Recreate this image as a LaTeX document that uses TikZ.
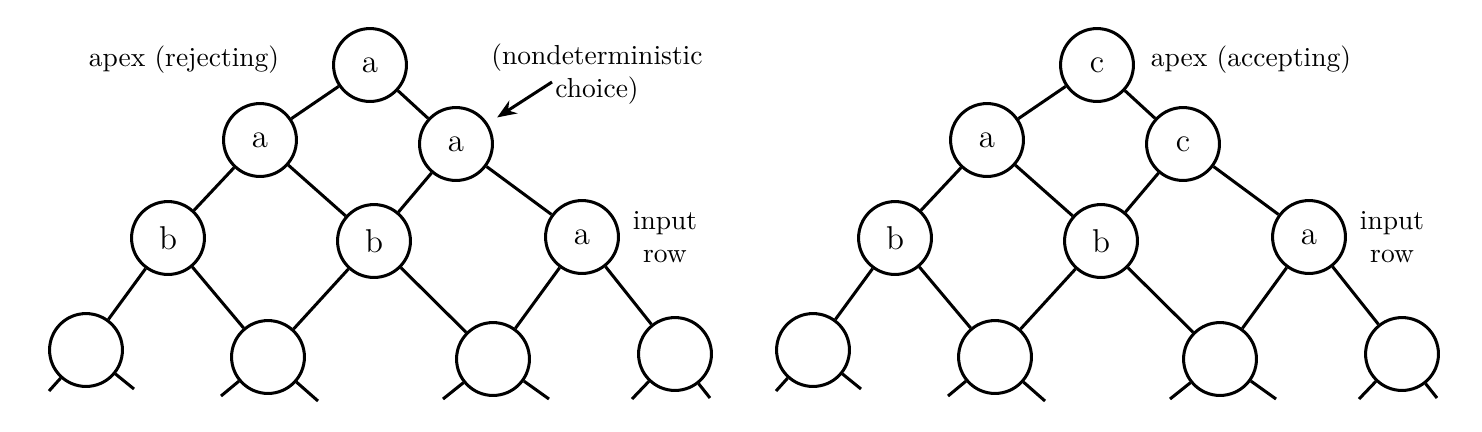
\documentclass[tikz,border=0pt]{standalone}
\usetikzlibrary{arrows.meta}
\tikzset{
  cell/.style={draw, circle, line width=1.1pt, minimum size=26.5pt, inner sep=0pt, font=\large},
  wire/.style={line width=1.1pt},
}
\begin{document}
\begin{tikzpicture}[x=0.3636pt, y=-0.3636pt]
  \useasboundingbox (0,0) rectangle (1482,431);
  \foreach \s/\p/\t/\u in {0/L/a/a, 727/R/c/c} {
  \begin{scope}[xshift=\s*0.3636pt]
    % apex and the row under it
    \node[cell] (\p0) at (370,65) {\t};
    \node[cell] (\p1) at (260,140) {a};
    \node[cell] (\p2) at (456,144) {\u};
    % input row
    \node[cell] (\p3) at (168,238) {b};
    \node[cell] (\p4) at (374,241) {b};
    \node[cell] (\p5) at (582,237) {a};
    % row below the input
    \foreach \x/\y [count=\i from 6] in {86/350, 268/357, 493/359, 675/354}
      \node[cell] (\p\i) at (\x,\y) {};
    \foreach \a/\b in {0/1,0/2,1/3,1/4,2/4,2/5,3/6,3/7,4/7,4/8,5/8,5/9}
      \draw[wire] (\p\a) -- (\p\b);
    % stubs going further down
    \foreach \i/\lx/\ly/\rx/\ry in {6/49/391/134/389, 7/221/396/318/401, 8/443/399/549/399, 9/632/399/710/398} {
      \coordinate (\p\i l) at (\lx,\ly);
      \coordinate (\p\i r) at (\rx,\ry);
      \draw[wire] (\p\i) -- (\p\i l);
      \draw[wire] (\p\i) -- (\p\i r);
    }
    \node[align=center] (\p in) at (665,237) {input\\row};
  \end{scope}
  }
  \node (rej) at (184,60) {apex (rejecting)};
  \node (acc) at (1251,60) {apex (accepting)};
  \node[align=center] (choice) at (597,74) {(nondeterministic\\choice)};
  \coordinate (choicetail) at (552,82);
  \draw[wire, -{Stealth[length=7pt,width=5.5pt]}, shorten >=4pt] (choicetail) -- (L2);
\end{tikzpicture}
\end{document}
